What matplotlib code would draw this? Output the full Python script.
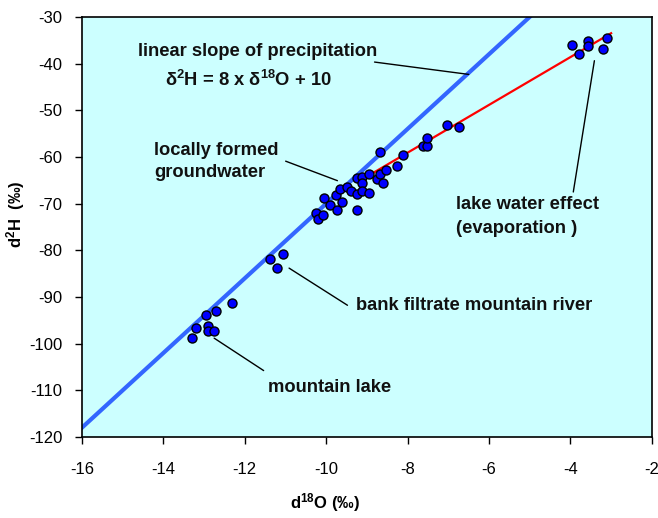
import matplotlib
matplotlib.use('Agg')
import matplotlib.pyplot as plt

plt.rcParams['font.family'] = ['Liberation Sans', 'DejaVu Sans']
plt.rcParams['mathtext.fontset'] = 'custom'
plt.rcParams['mathtext.rm'] = 'Liberation Sans'
plt.rcParams['mathtext.bf'] = 'Liberation Sans:bold'
plt.rcParams['mathtext.it'] = 'Liberation Sans:italic'
plt.rcParams['axes.unicode_minus'] = False

# measured samples (d18O, d2H in permil)
d18o = [-13.30, -13.20, -12.90, -12.90, -12.75, -12.95, -12.71, -12.31,
        -11.38, -11.05, -11.22,
        -10.24, -10.20, -10.07, -10.06, -9.91, -9.76, -9.74, -9.66, -9.60,
        -9.50, -9.40, -9.25, -9.25, -9.25, -9.13, -9.13, -9.11, -8.96, -8.94,
        -8.76, -8.68, -8.67, -8.60, -8.52, -8.25, -8.11, -7.62, -7.52, -7.53,
        -7.04, -6.73,
        -3.96, -3.78, -3.56, -3.56, -3.10, -3.20]
d2h = [-98.9, -96.7, -96.2, -97.2, -97.2, -93.9, -93.0, -91.3,
       -81.9, -80.8, -83.9,
       -72.1, -73.3, -72.4, -68.9, -70.3, -68.1, -71.4, -66.9, -69.6,
       -66.4, -67.4, -64.6, -68.0, -71.4, -64.2, -65.6, -67.3, -63.7, -67.8,
       -64.8, -63.7, -59.0, -65.5, -62.8, -61.9, -59.6, -57.6, -57.6, -56.0,
       -53.1, -53.5,
       -36.1, -37.9, -35.1, -36.2, -34.6, -36.9]

# meteoric water line d2H = 8 * d18O + 10
gmwl_x = [-16, -5]
gmwl_y = [8 * x + 10 for x in gmwl_x]

# evaporation line
evap_x = [-8.9, -3.0]
evap_y = [-63.7, -33.5]

fig = plt.figure(figsize=(6.58, 5.18), dpi=100)
ax = fig.add_axes([0.1246, 0.1564, 0.866, 0.811])
ax.set_facecolor('#CCFFFF')

ax.plot(gmwl_x, gmwl_y, color='#3366FF', lw=3, zorder=2)
ax.plot(evap_x, evap_y, color='red', lw=1.6, zorder=2)
ax.plot(d18o, d2h, 'o', color='#0000FF', mec='black', mew=1, ms=6.5, zorder=3)

ax.set_xlim(-16, -2)
ax.set_ylim(-120, -30)
ax.set_xticks(range(-16, -1, 2))
ax.set_yticks(range(-120, -29, 10))
ax.tick_params(direction='out', length=5, width=1, labelsize=12, colors='black',
               top=False, right=False)
ax.tick_params(axis='x', pad=13)
ax.tick_params(axis='y', pad=9)
for s in ax.spines.values():
    s.set_linewidth(1.2)

ax.set_xlabel(r'$\mathbf{d^{18}O}$ (‰)', fontsize=12, fontweight='bold')
ax.set_ylabel(r'$\mathbf{d^{2}H}$  (‰)', fontsize=12, fontweight='bold')
ax.xaxis.set_label_coords(0.426, -0.13)
ax.yaxis.set_label_coords(-0.097, 0.529)

tk = dict(fontsize=13.2, fontweight='bold', color='#111111')
line = dict(arrowstyle='-', color='black', lw=1)

ax.text(-14.62, -37.5, 'linear slope of precipitation', ha='left', va='center', **tk)
ax.text(-13.96, -43.5, r'$\mathbf{\delta^{2}H}$ = 8 x $\mathbf{\delta^{18}O}$ + 10',
        ha='left', va='center', **tk)
ax.annotate('', xy=(-6.43, -42.4), xytext=(-8.88, -39.6), arrowprops=line)

ax.text(-14.23, -58.6, 'locally formed', ha='left', va='center', **tk)
ax.text(-14.23, -63.4, 'groundwater', ha='left', va='center', **tk)
ax.annotate('', xy=(-9.66, -65.3), xytext=(-11.06, -60.7), arrowprops=line)

ax.text(-9.27, -91.9, 'bank filtrate mountain river', ha='left', va='center', **tk)
ax.annotate('', xy=(-10.97, -83.5), xytext=(-9.42, -92.1), arrowprops=line)

ax.text(-11.43, -109.5, 'mountain lake', ha='left', va='center', **tk)
ax.annotate('', xy=(-12.81, -98.5), xytext=(-11.48, -106.1), arrowprops=line)

ax.text(-6.81, -70.3, 'lake water effect', ha='left', va='center', **tk)
ax.text(-6.81, -75.4, '(evaporation )', ha='left', va='center', **tk)
ax.annotate('', xy=(-3.40, -38.8), xytext=(-3.94, -68.1), arrowprops=line)

fig.savefig('out.png', dpi=100)
